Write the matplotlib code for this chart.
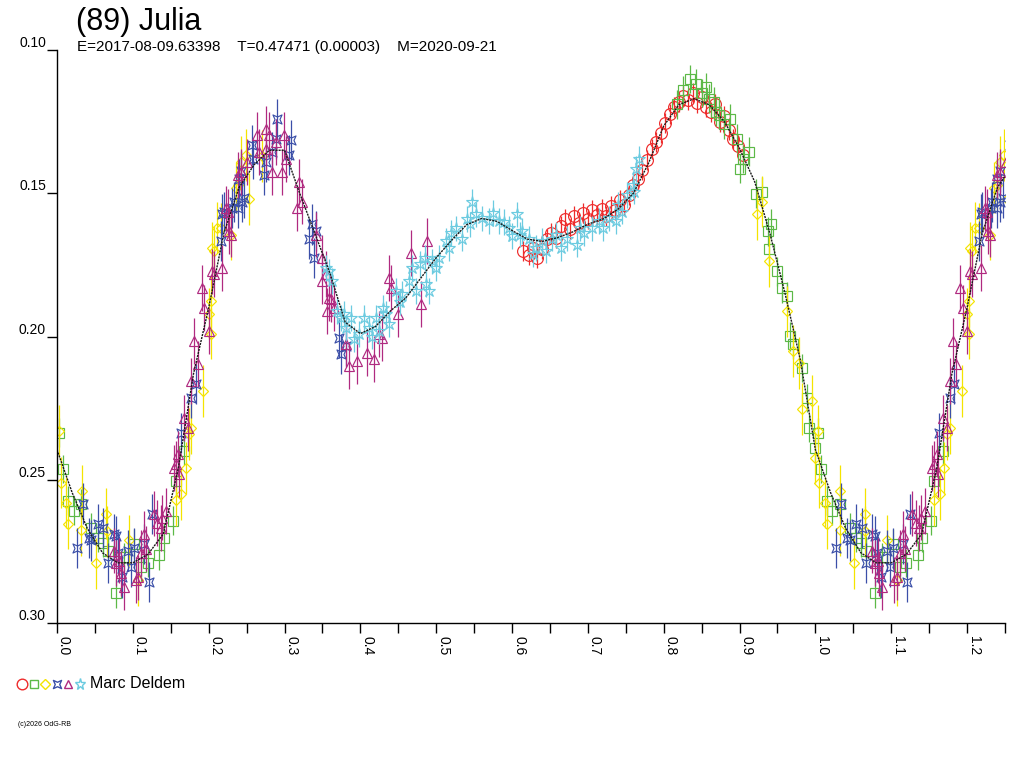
import numpy as np
import matplotlib
matplotlib.use("Agg")
import matplotlib.pyplot as plt
from matplotlib.path import Path
from matplotlib.lines import Line2D
from matplotlib.ticker import MultipleLocator, FormatStrFormatter

plt.rcParams['font.family'] = ['Liberation Sans', 'DejaVu Sans']

title = "(89) Julia"
subtitle = "E=2017-08-09.63398    T=0.47471 (0.00003)    M=2020-09-21"
observer = "Marc Deldem"
credit = "(c)2026 OdG-RB"

# fitted curve, one rotation
fit_phase = [0.00, 0.02, 0.04, 0.06, 0.08, 0.10, 0.12, 0.14, 0.16, 0.18,
             0.20, 0.22, 0.24, 0.26, 0.28, 0.30, 0.32, 0.34, 0.36, 0.38,
             0.40, 0.42, 0.44, 0.46, 0.48, 0.50, 0.52, 0.54, 0.56, 0.58,
             0.60, 0.62, 0.64, 0.66, 0.68, 0.70, 0.72, 0.74, 0.76, 0.78,
             0.80, 0.82, 0.84, 0.86, 0.88, 0.90, 0.92, 0.94, 0.96, 0.98, 1.00]
fit_mag = [0.2395, 0.2545, 0.2670, 0.2755, 0.2790, 0.2790, 0.2760, 0.2690, 0.2460, 0.2130,
           0.1900, 0.1640, 0.1480, 0.1400, 0.1350, 0.1350, 0.1500, 0.1640, 0.1780, 0.1950,
           0.1990, 0.1965, 0.1910, 0.1865, 0.1795, 0.1725, 0.1665, 0.1610, 0.1588, 0.1598,
           0.1630, 0.1660, 0.1668, 0.1655, 0.1635, 0.1608, 0.1590, 0.1555, 0.1500, 0.1395,
           0.1265, 0.1191, 0.1170, 0.1191, 0.1250, 0.1344, 0.1460, 0.1640, 0.1850, 0.2080, 0.2395]

red_phase = [0.615, 0.622, 0.628, 0.633, 0.640, 0.646, 0.652, 0.658, 0.664, 0.670,
             0.676, 0.682, 0.688, 0.694, 0.700, 0.706, 0.712, 0.718, 0.724, 0.730,
             0.736, 0.742, 0.748, 0.754, 0.760, 0.766, 0.772, 0.778, 0.784, 0.790,
             0.796, 0.802, 0.808, 0.814, 0.820, 0.826, 0.832, 0.838, 0.844, 0.850,
             0.856, 0.862, 0.868, 0.874, 0.880, 0.886, 0.892, 0.898, 0.904]
red_mag = [0.1700, 0.1715, 0.1690, 0.1725, 0.1695, 0.1660, 0.1640, 0.1655, 0.1615, 0.1590,
           0.1625, 0.1580, 0.1605, 0.1570, 0.1590, 0.1560, 0.1575, 0.1555, 0.1580, 0.1545,
           0.1560, 0.1525, 0.1540, 0.1505, 0.1470, 0.1450, 0.1420, 0.1385, 0.1345, 0.1320,
           0.1290, 0.1255, 0.1225, 0.1200, 0.1180, 0.1160, 0.1175, 0.1150, 0.1185, 0.1165,
           0.1200, 0.1215, 0.1190, 0.1250, 0.1230, 0.1280, 0.1310, 0.1335, 0.1365]

green_phase = [0.003, 0.008, 0.015, 0.022, 0.032, 0.045, 0.054, 0.060, 0.067, 0.078,
               0.088, 0.102, 0.111, 0.120, 0.135, 0.141, 0.153, 0.157, 0.168, 0.818,
               0.826, 0.834, 0.843, 0.850, 0.856, 0.860, 0.866, 0.869, 0.873, 0.879,
               0.887, 0.896, 0.900, 0.905, 0.913, 0.922, 0.930, 0.937, 0.939, 0.942,
               0.950, 0.956, 0.962, 0.966, 0.970, 0.982, 0.989, 0.992, 0.999]
green_mag = [0.2336, 0.2462, 0.2573, 0.2608, 0.2583, 0.2667, 0.2702, 0.2720, 0.2747, 0.2897,
             0.2770, 0.2723, 0.2806, 0.2790, 0.2764, 0.2702, 0.2643, 0.2503, 0.2399, 0.1190,
             0.1140, 0.1101, 0.1118, 0.1150, 0.1129, 0.1170, 0.1180, 0.1216, 0.1226, 0.1260,
             0.1240, 0.1310, 0.1414, 0.1380, 0.1355, 0.1501, 0.1494, 0.1633, 0.1696, 0.1606,
             0.1773, 0.1832, 0.1860, 0.1999, 0.2027, 0.2110, 0.2215, 0.2319, 0.2389]

yellow_phase = [0.003, 0.005, 0.012, 0.015, 0.032, 0.033, 0.051, 0.065, 0.066, 0.095,
                0.107, 0.157, 0.164, 0.170, 0.174, 0.177, 0.193, 0.200, 0.203, 0.203,
                0.204, 0.207, 0.211, 0.216, 0.230, 0.236, 0.239, 0.243, 0.249, 0.253,
                0.270, 0.923, 0.930, 0.939, 0.962, 0.970, 0.979, 0.982, 0.996, 0.999]
yellow_mag = [0.2330, 0.2510, 0.2580, 0.2653, 0.2677, 0.2540, 0.2792, 0.2618, 0.2680, 0.2712,
              0.2851, 0.2570, 0.2549, 0.2458, 0.2340, 0.2319, 0.2190, 0.1920, 0.1990, 0.1877,
              0.1690, 0.1703, 0.1620, 0.1623, 0.1644, 0.1480, 0.1470, 0.1390, 0.1366, 0.1520,
              0.1370, 0.1574, 0.1529, 0.1738, 0.1912, 0.2051, 0.2093, 0.2253, 0.2225, 0.2423]

blue_phase = [0.027, 0.034, 0.042, 0.045, 0.054, 0.061, 0.067, 0.075, 0.078, 0.081,
              0.086, 0.094, 0.098, 0.102, 0.115, 0.121, 0.125, 0.163, 0.177, 0.183,
              0.216, 0.218, 0.220, 0.231, 0.233, 0.239, 0.240, 0.243, 0.244, 0.247,
              0.257, 0.259, 0.273, 0.276, 0.284, 0.289, 0.290, 0.306, 0.309, 0.332,
              0.336, 0.339, 0.342, 0.372, 0.375, 0.381]
blue_mag = [0.2737, 0.2583, 0.2702, 0.2712, 0.2653, 0.2667, 0.2792, 0.2688, 0.2695, 0.2757,
            0.2841, 0.2747, 0.2806, 0.2737, 0.2723, 0.2858, 0.2618, 0.2336, 0.2215, 0.2166,
            0.1668, 0.1574, 0.1564, 0.1553, 0.1529, 0.1553, 0.1449, 0.1424, 0.1529, 0.1518,
            0.1331, 0.1379, 0.1435, 0.1390, 0.1355, 0.1310, 0.1240, 0.1365, 0.1313, 0.1658,
            0.1609, 0.1727, 0.1633, 0.2006, 0.2061, 0.2034]

magenta_phase = [0.075, 0.078, 0.082, 0.084, 0.088, 0.104, 0.107, 0.111, 0.115, 0.118,
                 0.128, 0.1325, 0.137, 0.139, 0.144, 0.154, 0.157, 0.160, 0.161, 0.168,
                 0.173, 0.177, 0.181, 0.186, 0.191, 0.194, 0.200, 0.204, 0.207, 0.218,
                 0.223, 0.226, 0.227, 0.230, 0.239, 0.243, 0.251, 0.264, 0.266, 0.276,
                 0.276, 0.280, 0.284, 0.289, 0.297, 0.299, 0.302, 0.317, 0.319, 0.323,
                 0.342, 0.350, 0.350, 0.355, 0.356, 0.359, 0.361, 0.365, 0.381, 0.385,
                 0.396, 0.409, 0.418, 0.425, 0.429, 0.438, 0.441, 0.449, 0.467, 0.480, 0.488]
magenta_mag = [0.2747, 0.2792, 0.2782, 0.2827, 0.2876, 0.2851, 0.2841, 0.2757, 0.2688, 0.2740,
               0.2618, 0.2650, 0.2667, 0.2632, 0.2608, 0.2458, 0.2444, 0.2409, 0.2479, 0.2284,
               0.2319, 0.2155, 0.2016, 0.2096, 0.1832, 0.1901, 0.1981, 0.1773, 0.1783, 0.1762,
               0.1553, 0.1564, 0.1633, 0.1644, 0.1435, 0.1425, 0.1390, 0.1296, 0.1355, 0.1275,
               0.1344, 0.1296, 0.1425, 0.1320, 0.1425, 0.1296, 0.1379, 0.1553, 0.1460, 0.1529,
               0.1644, 0.1727, 0.1807, 0.1783, 0.1912, 0.1867, 0.1870, 0.1901, 0.2027, 0.2103,
               0.2086, 0.2058, 0.2079, 0.1992, 0.2006, 0.1797, 0.1832, 0.1922, 0.1710, 0.1887, 0.1668]

cyan_phase = [0.355, 0.359, 0.363, 0.369, 0.375, 0.379, 0.381, 0.388, 0.392, 0.398,
              0.405, 0.412, 0.416, 0.421, 0.425, 0.430, 0.434, 0.438, 0.447, 0.452,
              0.455, 0.464, 0.468, 0.474, 0.478, 0.485, 0.487, 0.491, 0.495, 0.500,
              0.504, 0.513, 0.517, 0.520, 0.526, 0.534, 0.540, 0.544, 0.547, 0.553,
              0.561, 0.570, 0.575, 0.583, 0.590, 0.596, 0.600, 0.606, 0.610, 0.613,
              0.623, 0.627, 0.632, 0.640, 0.645, 0.653, 0.658, 0.665, 0.672, 0.685,
              0.689, 0.695, 0.706, 0.715, 0.720, 0.728, 0.737, 0.740, 0.745, 0.751,
              0.759, 0.761, 0.764, 0.768]
cyan_mag = [0.1762, 0.1773, 0.1807, 0.1912, 0.1936, 0.1922, 0.1971, 0.1936, 0.2010, 0.1992,
            0.1936, 0.1971, 0.2000, 0.1936, 0.1981, 0.1900, 0.1922, 0.1957, 0.1842, 0.1880,
            0.1853, 0.1807, 0.1762, 0.1842, 0.1748, 0.1727, 0.1818, 0.1842, 0.1738, 0.1760,
            0.1727, 0.1668, 0.1692, 0.1640, 0.1623, 0.1658, 0.1590, 0.1609, 0.1529, 0.1574,
            0.1588, 0.1598, 0.1570, 0.1598, 0.1600, 0.1623, 0.1650, 0.1574, 0.1644, 0.1633,
            0.1658, 0.1713, 0.1692, 0.1668, 0.1700, 0.1658, 0.1644, 0.1690, 0.1658, 0.1679,
            0.1623, 0.1640, 0.1623, 0.1598, 0.1620, 0.1588, 0.1598, 0.1540, 0.1564, 0.1505,
            0.1470, 0.1494, 0.1414, 0.1379]

errs = [0.0035, 0.005, 0.009, 0.007, 0.008, 0.0045]

# bow-tie marker used for the fourth session
bowtie = Path([(-1, -1), (0, -0.55), (1, -1), (0.55, 0), (1, 1), (0, 0.55),
               (-1, 1), (-0.55, 0), (-1, -1)], closed=True)

colors = ['#ee2b2b', '#5cb947', '#f4e400', '#3b4fa8', '#b02a80', '#6ccbe0']
markers = ['o', 's', 'D', bowtie, '^', '*']
sizes = [8.5, 6.5, 5.5, 6.5, 7.0, 9.0]

phases = [red_phase, green_phase, yellow_phase, blue_phase, magenta_phase, cyan_phase]
mags = [red_mag, green_mag, yellow_mag, blue_mag, magenta_mag, cyan_mag]

fig = plt.figure(figsize=(10.24, 7.68), dpi=100)
ax = fig.add_axes([57 / 1024, 1 - 623 / 768, (1005 - 57) / 1024, (623 - 50) / 768])

for ph, mg, er, col, mk, ms in zip(phases, mags, errs, colors, markers, sizes):
    ph = np.array(ph)
    mg = np.array(mg)
    wrap = ph < 0.26
    x = np.concatenate([ph, ph[wrap] + 1])
    y = np.concatenate([mg, mg[wrap]])
    ax.errorbar(x, y, yerr=er, fmt='none', ecolor=col, elinewidth=0.9, capsize=0)
    ax.plot(x, y, ls='none', marker=mk, ms=ms, mfc='none', mec=col, mew=0.85)

fp = np.array(fit_phase)
fm = np.array(fit_mag)
w = fp <= 0.26
ax.plot(np.concatenate([fp, fp[w][1:] + 1]), np.concatenate([fm, fm[w][1:]]),
        color='#1a1a1a', lw=1.0, ls=(0, (1.5, 0.7)))

ax.set_xlim(0, 1.25)
ax.set_ylim(0.30, 0.10)
for s in ['top', 'right']:
    ax.spines[s].set_visible(False)
for s in ['left', 'bottom']:
    ax.spines[s].set_linewidth(1)

ax.set_yticks([0.10, 0.15, 0.20, 0.25, 0.30])
ax.yaxis.set_major_formatter(FormatStrFormatter('%.2f'))
ax.tick_params(axis='y', direction='out', length=7, width=1, pad=1, labelsize=10)
for lab in ax.get_yticklabels():
    lab.set_va('bottom')

ax.xaxis.set_major_locator(MultipleLocator(0.1))
ax.xaxis.set_minor_locator(MultipleLocator(0.05))
ax.xaxis.set_major_formatter(FormatStrFormatter('%.1f'))
ax.tick_params(axis='x', which='both', direction='out', length=7, width=1, pad=2, labelsize=10)
for lab in ax.get_xticklabels():
    lab.set_rotation(-90)
    lab.set_ha('left')
    lab.set_va('top')

fig.text(76 / 1024, 1 - 30 / 768, title, fontsize=22, va='baseline')
fig.text(77 / 1024, 1 - 51 / 768, subtitle, fontsize=11, va='baseline')

# observer key
ky = 1 - 684 / 768
for kx, col, mk, ms in zip([22, 34, 45, 57, 68, 80], colors, markers, sizes):
    fig.add_artist(Line2D([kx / 1024], [ky], transform=fig.transFigure, ls='none',
                          marker=mk, ms=ms * 0.9, mfc='none', mec=col, mew=1))
fig.text(90 / 1024, ky, observer, fontsize=11.5, va='center')
fig.text(18 / 1024, 1 - 725 / 768, credit, fontsize=5, va='center')

fig.savefig('out.png', dpi=100)
